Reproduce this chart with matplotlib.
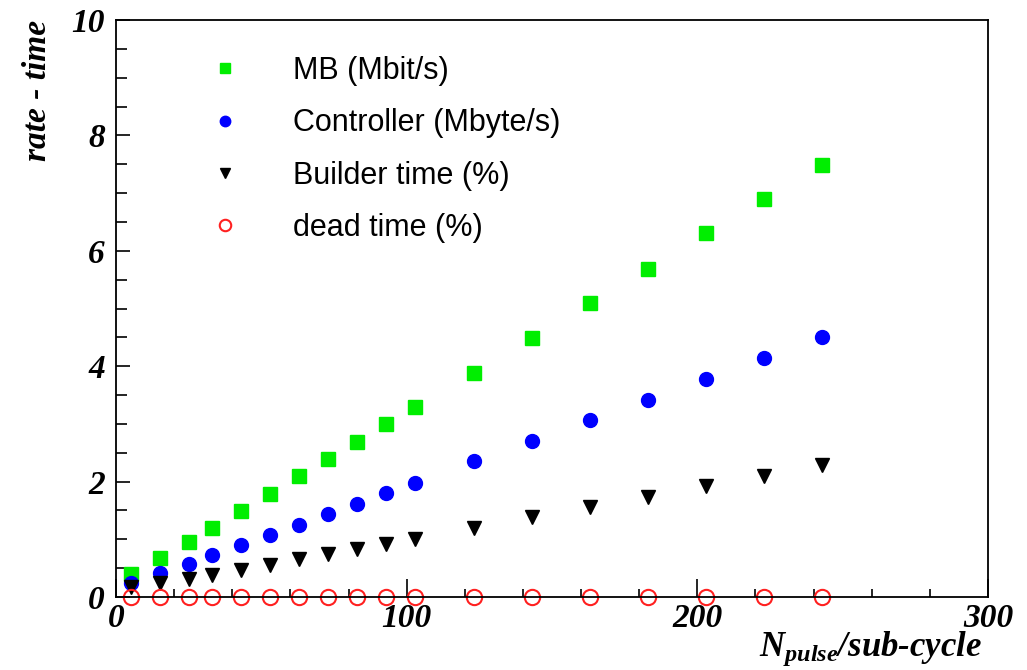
import matplotlib
matplotlib.use("Agg")
import matplotlib.pyplot as plt
from matplotlib.ticker import MultipleLocator

plt.rcParams['mathtext.fontset'] = 'custom'
plt.rcParams['mathtext.it'] = 'Liberation Serif:bold:italic'
plt.rcParams['mathtext.rm'] = 'Liberation Serif:bold:italic'
plt.rcParams['mathtext.bf'] = 'Liberation Serif:bold:italic'

# Data
n_pulse = [5, 15, 25, 33, 43, 53, 63, 73, 83, 93, 103, 123, 143, 163, 183, 203, 223, 243]
mb_rate = [0.40, 0.68, 0.96, 1.19, 1.49, 1.79, 2.09, 2.39, 2.69, 3.00, 3.29,
           3.88, 4.49, 5.10, 5.69, 6.30, 6.89, 7.49]
controller_rate = [0.25, 0.42, 0.58, 0.72, 0.90, 1.07, 1.25, 1.43, 1.62, 1.80, 1.98,
                   2.35, 2.70, 3.06, 3.42, 3.78, 4.14, 4.50]
builder_time = [0.18, 0.25, 0.31, 0.38, 0.46, 0.55, 0.65, 0.74, 0.83, 0.92, 1.01,
                1.20, 1.38, 1.56, 1.74, 1.92, 2.10, 2.28]
dead_time = [0.0] * 18
labels = ["MB (Mbit/s)", "Controller (Mbyte/s)", "Builder time (%)", "dead time (%)"]

fig = plt.figure(figsize=(10.27, 6.70), dpi=100)
ax = fig.add_axes([116/1027, 73/670, (988-116)/1027, (597-20)/670])

h1, = ax.plot(n_pulse, mb_rate, ls='none', marker='s', ms=10, color='#00ee00', mec='#00ee00', clip_on=False)
h2, = ax.plot(n_pulse, controller_rate, ls='none', marker='o', ms=10, color='#0000ff', mec='#0000ff', clip_on=False)
h3, = ax.plot(n_pulse, builder_time, ls='none', marker='v', ms=10, color='black', clip_on=False)
h4, = ax.plot(n_pulse, dead_time, ls='none', marker='o', ms=11, mfc='none', mec='#ff2020', mew=1.5, clip_on=False)

ax.set_xlim(0, 300)
ax.set_ylim(0, 10)
ax.xaxis.set_major_locator(MultipleLocator(100))
ax.xaxis.set_minor_locator(MultipleLocator(20))
ax.yaxis.set_major_locator(MultipleLocator(2))
ax.yaxis.set_minor_locator(MultipleLocator(0.5))
ax.tick_params(axis='x', which='major', direction='in', length=13, width=1.2, pad=4)
ax.tick_params(axis='x', which='minor', direction='in', length=6, width=1.2)
ax.tick_params(axis='y', which='major', direction='in', length=10, width=1.2, pad=8)
ax.tick_params(axis='y', which='minor', direction='in', length=8, width=1.2)
for s in ax.spines.values():
    s.set_linewidth(1.3)

for lab in ax.get_xticklabels() + ax.get_yticklabels():
    lab.set_fontfamily('Liberation Serif')
    lab.set_fontweight('bold')
    lab.set_fontstyle('italic')
    lab.set_fontsize(24)

fig.text(37/1027, 1 - 20/670, "rate - time", rotation=90, ha='center', va='top',
         family='Liberation Serif', weight='bold', style='italic', size=24)
fig.text(982/1027, 1 - 656/670, r"$N_{pulse}$/sub-cycle", ha='right', va='baseline',
         family='Liberation Serif', weight='bold', style='italic', size=25)

leg = ax.legend([h1, h2, h3, h4], labels, loc='upper left', bbox_to_anchor=(0.076, 0.985),
                frameon=False, markerscale=0.75, handletextpad=1.73, labelspacing=0.73,
                prop=dict(family='Liberation Sans', size=22), handlelength=1.0)

fig.savefig("out.png", dpi=100)
